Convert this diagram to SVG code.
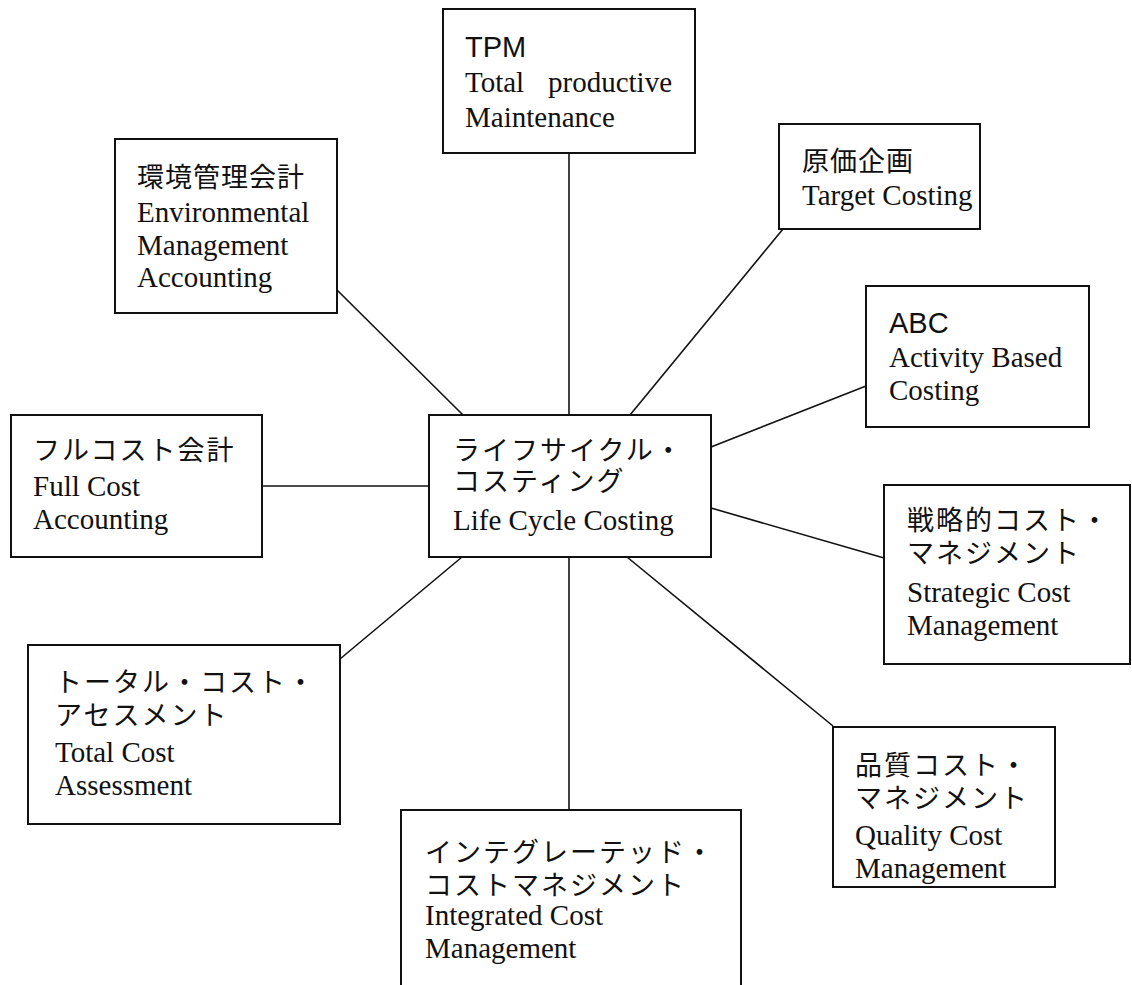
<svg xmlns="http://www.w3.org/2000/svg" width="1132" height="985" viewBox="0 0 1132 985">
<style>
.box{fill:#fff;stroke:#111;stroke-width:2}
.ln{stroke:#111;stroke-width:1.6;fill:none}
.t{font-family:"Liberation Serif","Noto Sans CJK JP",serif;font-size:29px;fill:#111}
.j{font-family:"Liberation Sans","Noto Sans CJK JP",sans-serif;font-size:27px;fill:#111;letter-spacing:2px}
.s{font-family:"Liberation Sans",Arial,sans-serif;font-size:29px;fill:#111}
</style>
<rect width="1132" height="985" fill="#fff"/>
<g id="connectors">
<line class="ln" x1="569" y1="153" x2="569" y2="415"/>
<line class="ln" x1="337" y1="290" x2="463" y2="415"/>
<line class="ln" x1="783" y1="229" x2="630" y2="415"/>
<line class="ln" x1="866" y1="386" x2="711" y2="447"/>
<line class="ln" x1="884" y1="558" x2="711" y2="508"/>
<line class="ln" x1="833" y1="726" x2="627" y2="557"/>
<line class="ln" x1="569" y1="557" x2="569" y2="810"/>
<line class="ln" x1="340" y1="659" x2="462" y2="557"/>
<line class="ln" x1="262" y1="486" x2="429" y2="486"/>
</g>
<g id="center">
<rect class="box" x="429" y="415" width="282" height="142"/>
<text class="j"><tspan x="453" y="460">ライフサイクル・</tspan><tspan x="453" y="491">コスティング</tspan></text>
<text class="t" x="453" y="530">Life Cycle Costing</text>
</g>
<g id="tpm">
<rect class="box" x="443" y="9" width="252" height="144"/>
<text class="s" x="465" y="57">TPM</text>
<text class="t" y="92"><tspan x="465">Total</tspan><tspan x="548">productive</tspan></text>
<text class="t" x="465" y="127">Maintenance</text>
</g>
<g id="env">
<rect class="box" x="115" y="139" width="222" height="174"/>
<text class="j" x="137" y="187" style="letter-spacing:1px">環境管理会計</text>
<text class="t" x="137" y="222">Environmental</text>
<text class="t" x="137" y="255">Management</text>
<text class="t" x="137" y="287">Accounting</text>
</g>
<g id="target">
<rect class="box" x="779" y="124" width="201" height="105"/>
<text class="j" x="802" y="171" style="letter-spacing:1px">原価企画</text>
<text class="t" x="802" y="205">Target Costing</text>
</g>
<g id="abc">
<rect class="box" x="866" y="286" width="223" height="141"/>
<text class="s" x="889" y="333">ABC</text>
<text class="t" x="889" y="367">Activity Based</text>
<text class="t" x="889" y="400">Costing</text>
</g>
<g id="fullcost">
<rect class="box" x="11" y="415" width="251" height="142"/>
<text class="j" x="33" y="460">フルコスト会計</text>
<text class="t" x="33" y="496">Full Cost</text>
<text class="t" x="33" y="529">Accounting</text>
</g>
<g id="strategic">
<rect class="box" x="884" y="485" width="246" height="179"/>
<text class="j"><tspan x="907" y="530">戦略的コスト・</tspan><tspan x="907" y="563">マネジメント</tspan></text>
<text class="t" x="907" y="602">Strategic Cost</text>
<text class="t" x="907" y="635">Management</text>
</g>
<g id="totalcost">
<rect class="box" x="28" y="645" width="312" height="179"/>
<text class="j"><tspan x="55" y="692">トータル・コスト・</tspan><tspan x="55" y="725">アセスメント</tspan></text>
<text class="t" x="55" y="762">Total Cost</text>
<text class="t" x="55" y="795">Assessment</text>
</g>
<g id="quality">
<rect class="box" x="833" y="727" width="222" height="160"/>
<text class="j"><tspan x="855" y="775">品質コスト・</tspan><tspan x="855" y="808">マネジメント</tspan></text>
<text class="t" x="855" y="845">Quality Cost</text>
<text class="t" x="855" y="878">Management</text>
</g>
<g id="integrated">
<path class="box" d="M401,995 V810 H741 V995"/>
<text class="j"><tspan x="425" y="862">インテグレーテッド・</tspan><tspan x="425" y="895">コストマネジメント</tspan></text>
<text class="t" x="425" y="925">Integrated Cost</text>
<text class="t" x="425" y="958">Management</text>
</g>
</svg>
